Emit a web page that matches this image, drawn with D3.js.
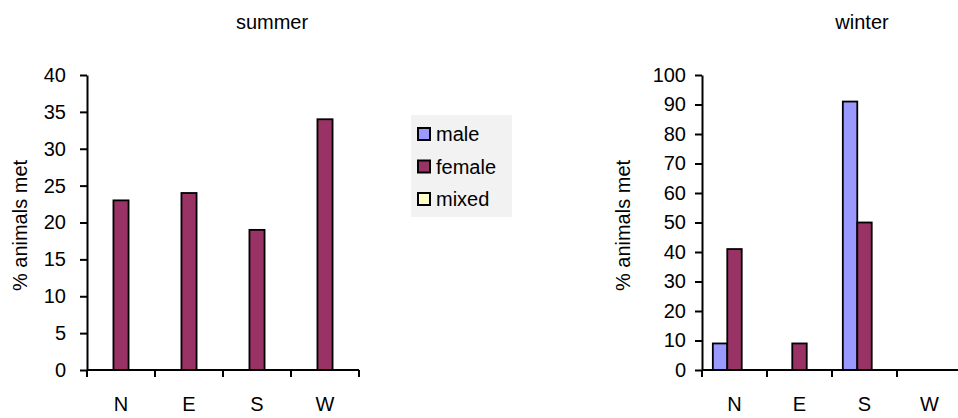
<!DOCTYPE html>
<html>
<head>
<meta charset="utf-8">
<script src="https://cdn.jsdelivr.net/npm/d3@7"></script>
<style>
  html, body { margin: 0; padding: 0; background: #fff; }
  svg { display: block; font-family: Arial, "Liberation Sans", sans-serif; }
</style>
</head>
<body>
<svg id="chart" width="958" height="418"></svg>
<script>
// Directions on the x axis, one group of bars each
const directions = ["N", "E", "S", "W"];
const seriesNames = ["male", "female", "mixed"];
const seriesColors = ["#9999FF", "#993366", "#FFFFCC"];

// % of animals met, per direction
const summerMale   = [0, 0, 0, 0];
const summerFemale = [23, 24, 19, 34];
const summerMixed  = [0, 0, 0, 0];

const winterMale   = [9, 0, 91, 0];
const winterFemale = [41, 9, 50, 0];
const winterMixed  = [0, 0, 0, 0];

const summerTicks = [0, 5, 10, 15, 20, 25, 30, 35, 40];
const winterTicks = [0, 10, 20, 30, 40, 50, 60, 70, 80, 90, 100];

const svg = d3.select("#chart");
const FONT = 20;

function drawPanel(opts) {
  const { title, titleX, left, right, top, bottom, yMax, ticks, values, labelX, pad } = opts;
  const g = svg.append("g");

  const x = d3.scaleBand().domain(directions).range([left, right]).padding(0);
  const inner = d3.scaleBand().domain(seriesNames)
    .range([0, x.bandwidth()]).paddingInner(0).paddingOuter(0.75);
  const y = d3.scaleLinear().domain([0, yMax]).range([bottom, top]);

  const rows = directions.map((d, i) => ({
    dir: d,
    vals: seriesNames.map((s, k) => ({ s, k, v: values[k][i] }))
  }));

  // bars
  g.selectAll("g.grp").data(rows).join("g")
    .attr("transform", d => `translate(${x(d.dir)},0)`)
    .selectAll("rect").data(d => d.vals.filter(v => v.v > 0)).join("rect")
    .attr("x", d => inner(d.s))
    .attr("width", inner.bandwidth())
    .attr("y", d => y(d.v))
    .attr("height", d => y(0) - y(d.v))
    .attr("fill", d => seriesColors[d.k])
    .attr("stroke", "#000")
    .attr("stroke-width", 1.8);

  // y axis
  const yAxis = d3.axisLeft(y).tickValues(ticks).tickSize(7).tickPadding(pad).tickSizeOuter(0);
  const ya = g.append("g").attr("transform", `translate(${left},0)`).call(yAxis);
  ya.select(".domain").attr("stroke", "#000").attr("stroke-width", 2);
  ya.selectAll(".tick line").attr("stroke", "#000").attr("stroke-width", 2);
  ya.selectAll(".tick text").attr("font-size", FONT).attr("fill", "#000")
    .attr("font-family", "Arial, 'Liberation Sans', sans-serif");

  // x axis: line, ticks between groups, centred labels
  g.append("line").attr("x1", left).attr("x2", right).attr("y1", y(0)).attr("y2", y(0))
    .attr("stroke", "#000").attr("stroke-width", 2);
  const bounds = directions.map(d => x(d)).concat([right]);
  g.selectAll("line.xt").data(bounds).join("line")
    .attr("x1", d => d).attr("x2", d => d)
    .attr("y1", y(0)).attr("y2", y(0) + 7)
    .attr("stroke", "#000").attr("stroke-width", 2);
  g.selectAll("text.xl").data(directions).join("text")
    .attr("x", d => x(d) + x.bandwidth() / 2)
    .attr("y", 411)
    .attr("text-anchor", "middle")
    .attr("font-size", FONT)
    .text(d => d);

  // axis title
  g.append("text")
    .attr("transform", `translate(${labelX},${(top + bottom) / 2 + 3}) rotate(-90)`)
    .attr("text-anchor", "middle")
    .attr("dy", "0.35em")
    .attr("font-size", FONT)
    .text("% animals met");

  // chart title
  g.append("text")
    .attr("x", titleX).attr("y", 29)
    .attr("text-anchor", "middle")
    .attr("font-size", FONT)
    .text(title);
}

drawPanel({
  title: "summer", titleX: 272,
  left: 87, right: 359, top: 75, bottom: 370,
  yMax: 40, ticks: summerTicks, labelX: 20, pad: 14,
  values: [summerMale, summerFemale, summerMixed]
});

drawPanel({
  title: "winter", titleX: 862,
  left: 702, right: 962, top: 75, bottom: 370,
  yMax: 100, ticks: winterTicks, labelX: 623, pad: 9,
  values: [winterMale, winterFemale, winterMixed]
});

// legend
const lg = svg.append("g").attr("transform", "translate(411,115)");
lg.append("rect").attr("width", 101).attr("height", 102).attr("fill", "#f2f2f2");
const items = lg.selectAll("g.item").data(seriesNames).join("g")
  .attr("transform", (d, i) => `translate(7,${19 + i * 32.5})`);
items.append("rect")
  .attr("x", 0).attr("y", -6).attr("width", 12).attr("height", 12)
  .attr("fill", (d, i) => seriesColors[i])
  .attr("stroke", "#000").attr("stroke-width", 2);
items.append("text")
  .attr("x", 18).attr("dy", "0.35em")
  .attr("font-size", FONT)
  .text(d => d);
</script>
</body>
</html>
